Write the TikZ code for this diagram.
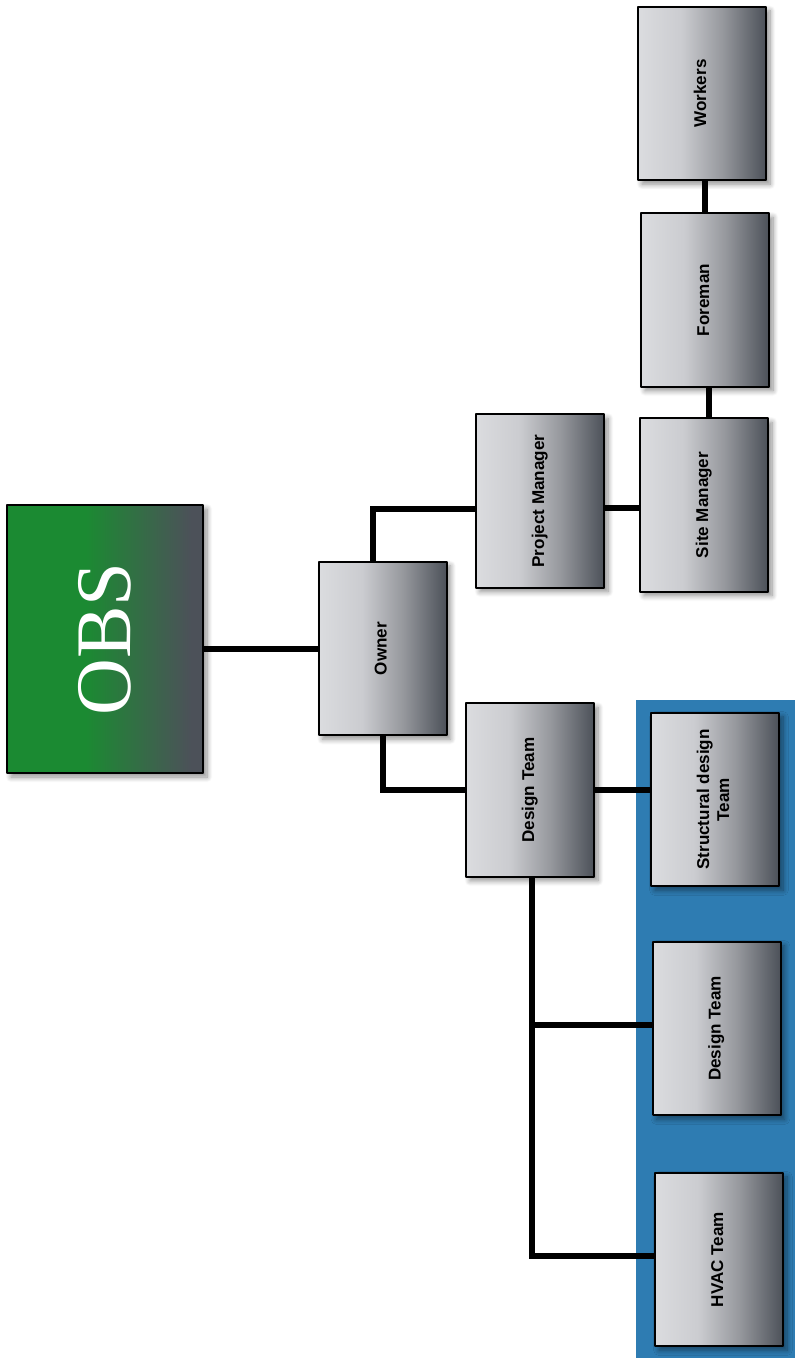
\documentclass[tikz,border=0pt]{standalone}
\usepackage{fontspec}
\setmainfont{Liberation Sans}
\newfontfamily\obsfont{Liberation Serif}
\usetikzlibrary{shadows.blur}
\definecolor{xanh}{RGB}{46,124,178}
\definecolor{xanhla}{RGB}{27,138,50}
\definecolor{xamtoi}{RGB}{76,81,89}
\definecolor{xamsang}{RGB}{219,220,223}
\definecolor{xamsang2}{RGB}{203,204,208}
\definecolor{xamgiua}{RGB}{150,152,157}
\pgfdeclarehorizontalshading{hopxam}{100bp}{color(0bp)=(xamsang); color(25bp)=(xamsang); color(42bp)=(xamsang2); color(58bp)=(xamgiua); color(75bp)=(xamtoi); color(100bp)=(xamtoi)}
\pgfdeclarehorizontalshading{hopobs}{100bp}{color(0bp)=(xanhla); color(25bp)=(xanhla); color(45bp)=(xanhla); color(72bp)=(xamtoi); color(100bp)=(xamtoi)}
\newcommand{\dung}[1]{\rotatebox{90}{\begin{tabular}{@{}c@{}}#1\end{tabular}}}
\begin{document}
\begin{tikzpicture}[x=0.75pt,y=-0.75pt, font=\bfseries\fontsize{12.8}{15}\selectfont, line join=round, line cap=round,
	hop/.style={draw=black, line width=1.5pt, shading=hopxam, minimum width=96pt, minimum height=130pt, inner sep=0pt,
		blur shadow={shadow xshift=3pt, shadow yshift=-3pt, shadow blur steps=8, shadow blur radius=4pt, shadow opacity=45}},
	noi/.style={line width=4.5pt, line cap=butt, line join=miter}]
	%Khung hình.
	\useasboundingbox (0,0) rectangle (795,1358);
	%Nền xanh.
	\fill[xanh] (636,700) rectangle (795,1358);
	%Các hộp.
	\node[hop, shading=hopobs, minimum width=147pt, minimum height=201pt] (obs) at (105,639)
		{\rotatebox{90}{\obsfont\mdseries\color{white}\fontsize{59}{60}\selectfont OBS}};
	\node[hop] (chu) at (382.5,648.5) {\dung{Owner}};
	\node[hop] (qlda) at (540,501) {\dung{Project Manager}};
	\node[hop] (ct) at (704,505) {\dung{Site Manager}};
	\node[hop] (dc) at (705,300) {\dung{Foreman}};
	\node[hop] (th) at (702,93.5) {\dung{Workers}};
	\node[hop] (tk) at (530,790) {\dung{Design Team}};
	\node[hop] (kc) at (715,799.5) {\dung{Structural design\\Team}};
	\node[hop] (tk2) at (716.5,1028.5) {\dung{Design Team}};
	\node[hop] (hvac) at (719,1259.5) {\dung{HVAC Team}};
	%Đường nối.
	\draw[noi] (obs.east |- chu.west) -- (chu.west);
	\draw[noi] ([xshift=-7pt]chu.north) |- ([yshift=-6pt]qlda.west);
	\draw[noi] (chu.south) |- (tk.west);
	\draw[noi] ([yshift=-5pt]qlda.east) -- ([yshift=-5pt]qlda.east -| ct.west);
	\draw[noi] ([xshift=4pt]ct.north) -- ([xshift=4pt]ct.north |- dc.south);
	\draw[noi] (dc.north) -- (dc.north |- th.south);
	\draw[noi] (tk.east) -- (tk.east -| kc.west);
	\draw[noi] ([xshift=1.5pt]tk.south) |- ([yshift=3pt]tk2.west);
	\draw[noi] ([xshift=1.5pt]tk.south) |- ([yshift=3pt]hvac.west);
\end{tikzpicture}
\end{document}
